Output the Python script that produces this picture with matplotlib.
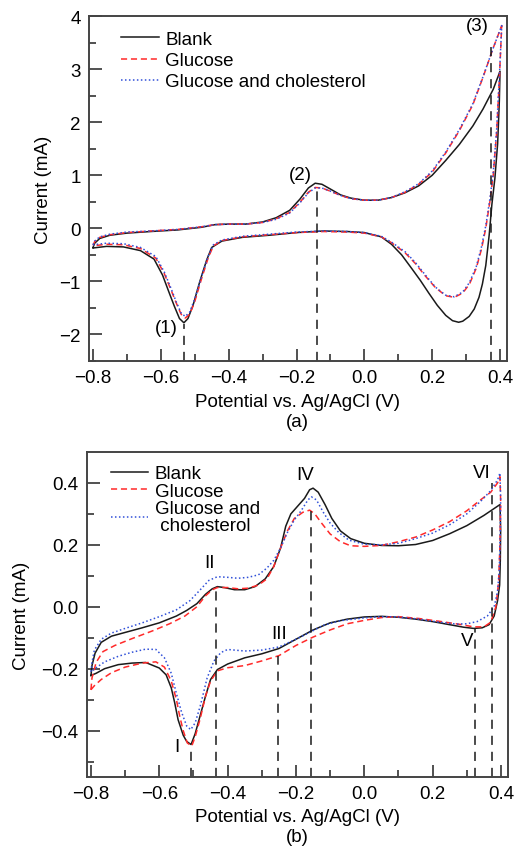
import matplotlib

matplotlib.use("Agg")
import matplotlib.pyplot as plt

plt.rcParams["font.family"] = ["Liberation Sans", "DejaVu Sans"]
plt.rcParams["axes.unicode_minus"] = True

# ---- panel (a): CV loops, E (V) and I (mA), upper branch then lower branch ----
a_blank_E = [-0.80, -0.795, -0.78, -0.75, -0.70, -0.63, -0.55, -0.48, -0.44, -0.40, -0.35, -0.30,
             -0.26, -0.22, -0.19, -0.165, -0.145, -0.125, -0.10, -0.07, -0.04, 0.0, 0.04, 0.08,
             0.12, 0.16, 0.20, 0.24, 0.28, 0.32, 0.35, 0.38, 0.40,
             0.398, 0.393, 0.385, 0.376, 0.368, 0.358, 0.348, 0.338, 0.324, 0.309, 0.29, 0.278,
             0.26, 0.24, 0.215, 0.19, 0.165, 0.14, 0.11, 0.08, 0.05, 0.0, -0.05, -0.12, -0.20,
             -0.28, -0.36, -0.42, -0.45, -0.465, -0.485, -0.505, -0.52, -0.532, -0.545, -0.56,
             -0.575, -0.595, -0.62, -0.66, -0.71, -0.76, -0.80]
a_blank_I = [-0.36, -0.28, -0.19, -0.13, -0.09, -0.06, -0.03, 0.02, 0.07, 0.08, 0.08, 0.12,
             0.20, 0.34, 0.55, 0.76, 0.85, 0.83, 0.74, 0.63, 0.57, 0.53, 0.53, 0.58,
             0.67, 0.80, 1.00, 1.28, 1.58, 1.93, 2.25, 2.62, 2.96,
             2.40, 1.60, 0.95, 0.45, -0.13, -0.70, -1.05, -1.30, -1.52, -1.66, -1.75, -1.77,
             -1.74, -1.64, -1.45, -1.22, -0.98, -0.76, -0.50, -0.30, -0.16, -0.08, -0.06, -0.05, -0.08,
             -0.13, -0.17, -0.24, -0.36, -0.60, -1.00, -1.45, -1.70, -1.78, -1.70, -1.47,
             -1.22, -0.88, -0.58, -0.42, -0.35, -0.34, -0.37]

a_gluc_E = [-0.80, -0.795, -0.78, -0.75, -0.70, -0.63, -0.55, -0.48, -0.44, -0.40, -0.35, -0.30,
            -0.26, -0.22, -0.19, -0.165, -0.145, -0.125, -0.10, -0.07, -0.04, 0.0, 0.04, 0.08,
            0.12, 0.16, 0.20, 0.24, 0.28, 0.32, 0.35, 0.38, 0.405,
            0.398, 0.39, 0.38, 0.37, 0.358, 0.345, 0.33, 0.31, 0.29, 0.265, 0.24, 0.21, 0.18,
            0.15, 0.12, 0.08, 0.05, 0.0, -0.05, -0.12, -0.20, -0.28, -0.36, -0.42, -0.445,
            -0.46, -0.48, -0.50, -0.515, -0.528, -0.54, -0.555, -0.57, -0.59, -0.615, -0.66,
            -0.71, -0.76, -0.80]
a_gluc_I = [-0.32, -0.25, -0.17, -0.12, -0.08, -0.05, -0.02, 0.03, 0.07, 0.08, 0.08, 0.11,
            0.18, 0.30, 0.49, 0.68, 0.77, 0.76, 0.70, 0.62, 0.56, 0.53, 0.53, 0.58,
            0.68, 0.83, 1.06, 1.42, 1.84, 2.33, 2.85, 3.40, 3.82,
            2.80, 1.80, 1.00, 0.50, 0.00, -0.40, -0.75, -1.05, -1.22, -1.30, -1.27, -1.12, -0.90,
            -0.66, -0.46, -0.27, -0.16, -0.09, -0.07, -0.06, -0.08, -0.12, -0.16, -0.23, -0.33,
            -0.55, -0.95, -1.38, -1.62, -1.69, -1.62, -1.40, -1.16, -0.85, -0.56, -0.38,
            -0.31, -0.30, -0.33]

a_chol_E = [-0.80, -0.795, -0.78, -0.75, -0.70, -0.63, -0.55, -0.48, -0.44, -0.40, -0.35, -0.30,
            -0.26, -0.22, -0.19, -0.165, -0.145, -0.125, -0.10, -0.07, -0.04, 0.0, 0.04, 0.08,
            0.12, 0.16, 0.20, 0.24, 0.28, 0.32, 0.35, 0.38, 0.405,
            0.398, 0.39, 0.38, 0.37, 0.358, 0.345, 0.33, 0.31, 0.29, 0.265, 0.24, 0.21, 0.18,
            0.15, 0.12, 0.08, 0.05, 0.0, -0.05, -0.12, -0.20, -0.28, -0.36, -0.42, -0.445,
            -0.46, -0.48, -0.50, -0.515, -0.528, -0.54, -0.555, -0.57, -0.59, -0.615, -0.66,
            -0.71, -0.76, -0.80]
a_chol_I = [-0.31, -0.24, -0.16, -0.11, -0.07, -0.05, -0.02, 0.03, 0.07, 0.08, 0.08, 0.11,
            0.17, 0.29, 0.48, 0.67, 0.76, 0.76, 0.70, 0.62, 0.56, 0.53, 0.53, 0.58,
            0.69, 0.84, 1.08, 1.44, 1.86, 2.35, 2.86, 3.40, 3.82,
            2.85, 1.85, 1.05, 0.55, 0.05, -0.36, -0.72, -1.02, -1.20, -1.29, -1.26, -1.11, -0.88,
            -0.64, -0.44, -0.26, -0.15, -0.08, -0.06, -0.05, -0.07, -0.11, -0.15, -0.22, -0.31,
            -0.52, -0.91, -1.33, -1.58, -1.66, -1.60, -1.38, -1.13, -0.82, -0.53, -0.36,
            -0.29, -0.28, -0.31]

# ---- panel (b) ----
b_blank_E = [-0.80, -0.797, -0.788, -0.77, -0.74, -0.70, -0.65, -0.60, -0.55, -0.52, -0.49, -0.465,
             -0.445, -0.43, -0.41, -0.38, -0.35, -0.32, -0.29, -0.265, -0.245, -0.23, -0.215, -0.195,
             -0.175, -0.16, -0.15, -0.135, -0.115, -0.095, -0.07, -0.04, 0.0, 0.05, 0.10, 0.15,
             0.20, 0.25, 0.30, 0.35, 0.397,
             0.399, 0.398, 0.396, 0.39, 0.38, 0.365, 0.345, 0.32, 0.29, 0.25, 0.20, 0.15, 0.10,
             0.05, 0.0, -0.05, -0.10, -0.15, -0.20, -0.25, -0.30, -0.35, -0.40, -0.43, -0.45,
             -0.465, -0.48, -0.495, -0.507, -0.52, -0.53, -0.545, -0.555, -0.565, -0.58, -0.60,
             -0.64, -0.68, -0.72, -0.76, -0.785, -0.80]
b_blank_I = [-0.222, -0.19, -0.15, -0.115, -0.095, -0.083, -0.068, -0.052, -0.030, -0.012, 0.010, 0.040,
             0.058, 0.065, 0.062, 0.055, 0.055, 0.065, 0.090, 0.130, 0.190, 0.260, 0.300, 0.325,
             0.350, 0.378, 0.383, 0.370, 0.330, 0.285, 0.245, 0.220, 0.205, 0.198, 0.197, 0.201,
             0.214, 0.236, 0.262, 0.295, 0.330,
             0.25, 0.15, 0.07, 0.02, -0.03, -0.058, -0.068, -0.070, -0.066, -0.058, -0.048, -0.040, -0.034,
             -0.031, -0.033, -0.040, -0.052, -0.075, -0.105, -0.135, -0.152, -0.165, -0.185, -0.203, -0.235,
             -0.29, -0.35, -0.41, -0.445, -0.435, -0.415, -0.365, -0.31, -0.262, -0.22, -0.198,
             -0.18, -0.182, -0.187, -0.20, -0.215, -0.222]

b_gluc_E = [-0.80, -0.797, -0.785, -0.765, -0.73, -0.68, -0.62, -0.57, -0.525, -0.49, -0.465, -0.445,
            -0.43, -0.40, -0.37, -0.34, -0.31, -0.285, -0.265, -0.245, -0.225, -0.205, -0.18, -0.16,
            -0.145, -0.125, -0.10, -0.07, -0.04, 0.0, 0.05, 0.10, 0.15, 0.20, 0.25, 0.30, 0.34,
            0.37, 0.39, 0.397,
            0.399, 0.397, 0.393, 0.385, 0.37, 0.35, 0.32, 0.28, 0.22, 0.16, 0.10, 0.05, 0.0,
            -0.05, -0.10, -0.15, -0.20, -0.25, -0.30, -0.35, -0.40, -0.43, -0.45, -0.465, -0.48,
            -0.495, -0.505, -0.518, -0.53, -0.54, -0.55, -0.565, -0.585, -0.61, -0.65, -0.70,
            -0.74, -0.77, -0.79, -0.80]
b_gluc_I = [-0.268, -0.23, -0.18, -0.145, -0.125, -0.103, -0.078, -0.055, -0.030, 0.0, 0.035, 0.055,
            0.062, 0.062, 0.058, 0.060, 0.070, 0.090, 0.130, 0.190, 0.245, 0.285, 0.305, 0.312,
            0.300, 0.270, 0.235, 0.210, 0.197, 0.195, 0.198, 0.210, 0.225, 0.248, 0.275, 0.310, 0.345,
            0.370, 0.400, 0.420,
            0.34, 0.20, 0.08, 0.0, -0.05, -0.065, -0.065, -0.057, -0.047, -0.038, -0.032, -0.035, -0.044,
            -0.055, -0.075, -0.098, -0.125, -0.158, -0.175, -0.190, -0.197, -0.207, -0.24, -0.29, -0.36,
            -0.42, -0.45, -0.44, -0.40, -0.355, -0.30, -0.24, -0.195, -0.178, -0.182, -0.195,
            -0.213, -0.235, -0.255, -0.268]

b_chol_E = [-0.80, -0.797, -0.79, -0.77, -0.74, -0.70, -0.65, -0.60, -0.55, -0.51, -0.48, -0.455,
            -0.43, -0.40, -0.37, -0.34, -0.31, -0.285, -0.265, -0.245, -0.225, -0.205, -0.185, -0.165,
            -0.155, -0.14, -0.12, -0.10, -0.075, -0.045, 0.0, 0.05, 0.10, 0.15, 0.20, 0.25, 0.30,
            0.34, 0.37, 0.39, 0.397,
            0.399, 0.398, 0.395, 0.39, 0.38, 0.36, 0.33, 0.30, 0.27, 0.22, 0.16, 0.10, 0.05, 0.0,
            -0.07, -0.12, -0.16, -0.20, -0.25, -0.30, -0.35, -0.40, -0.42, -0.44, -0.46, -0.48,
            -0.495, -0.508, -0.52, -0.535, -0.55, -0.565, -0.585, -0.61, -0.64, -0.68, -0.72,
            -0.76, -0.785, -0.80]
b_chol_I = [-0.21, -0.18, -0.14, -0.105, -0.085, -0.070, -0.052, -0.032, -0.010, 0.020, 0.055, 0.085,
            0.097, 0.095, 0.092, 0.095, 0.103, 0.125, 0.150, 0.190, 0.240, 0.280, 0.310, 0.345,
            0.355, 0.345, 0.305, 0.270, 0.240, 0.215, 0.202, 0.200, 0.205, 0.220, 0.238, 0.265, 0.300,
            0.340, 0.375, 0.410, 0.432,
            0.35, 0.25, 0.12, 0.05, 0.0, -0.03, -0.048, -0.055, -0.056, -0.050, -0.040, -0.033, -0.032, -0.036,
            -0.045, -0.060, -0.083, -0.105, -0.130, -0.140, -0.143, -0.138, -0.148, -0.175, -0.23, -0.32,
            -0.375, -0.397, -0.385, -0.34, -0.28, -0.215, -0.165, -0.138, -0.137, -0.147, -0.16,
            -0.178, -0.197, -0.21]

# guide lines: (potential, top current) and peak labels (text, E, I)
a_guides = [(-0.532, -1.80), (-0.141, 0.72), (0.372, 3.50)]
a_labels = [("(1)", -0.583, -1.86), ("(2)", -0.19, 1.02), ("(3)", 0.333, 3.83)]
b_guides = [(-0.508, -0.45), (-0.433, 0.063), (-0.252, -0.16), (-0.157, 0.31), (0.325, -0.07), (0.374, 0.40)]
b_labels = [("I", -0.548, -0.452), ("II", -0.452, 0.142), ("III", -0.248, -0.085), ("IV", -0.172, 0.426),
            ("V", 0.30, -0.108), ("VI", 0.345, 0.432)]

FS = 13.5
BLACK = "#1a1a1a"
RED = "#ff2a2a"
BLUE = "#3050d8"
XTL = ["\u22120.8", "\u22120.6", "\u22120.4", "\u22120.2", "0.0", "0.2", "0.4"]


def style_axes(ax, ymajor, yminor, ylim, xpad):
    ax.set_xlim(-0.812, 0.42)
    ax.set_ylim(*ylim)
    ax.set_xticks([-0.8, -0.6, -0.4, -0.2, 0.0, 0.2, 0.4])
    ax.set_xticks([-0.7, -0.5, -0.3, -0.1, 0.1, 0.3], minor=True)
    ax.set_yticks(ymajor)
    ax.set_yticks(yminor, minor=True)
    ax.tick_params(which="both", direction="in", top=False, right=False, labelsize=FS,
                   color="#333333", width=1.2, pad=6)
    ax.tick_params(which="major", length=9)
    ax.tick_params(which="minor", length=5)
    for s in ax.spines.values():
        s.set_color("#444444")
        s.set_linewidth(1.4)
    ax.set_xlabel("Potential vs. Ag/AgCl (V)", fontsize=FS, labelpad=xpad)
    ax.set_ylabel("Current (mA)", fontsize=FS)


fig = plt.figure(figsize=(5.14, 8.53), dpi=100)
ax1 = fig.add_axes([0.173, 0.5756, 0.813, 0.4044])
ax2 = fig.add_axes([0.169, 0.0879, 0.819, 0.3811])

# panel (a)
ax1.plot(a_blank_E, a_blank_I, color=BLACK, lw=1.1, label="Blank")
ax1.plot(a_gluc_E, a_gluc_I, color=RED, lw=1.1, ls=(0, (4, 2.5)), label="Glucose")
ax1.plot(a_chol_E, a_chol_I, color=BLUE, lw=1.1, ls=(0, (1, 1.6)), label="Glucose and cholesterol")
for e, top in a_guides:
    ax1.plot([e, e], [-2.5, top], color=BLACK, lw=1.1, ls=(0, (6, 4.5)))
for t, e, i in a_labels:
    ax1.text(e, i, t, fontsize=FS, ha="center", va="center")
style_axes(ax1, [-2, -1, 0, 1, 2, 3, 4], [-2.5, -1.5, -0.5, 0.5, 1.5, 2.5, 3.5], (-2.5, 4.0), 5)
ax1.set_yticklabels(["\u22122", "\u22121", "0", "1", "2", "3", "4"])
ax1.set_xticklabels(XTL)
ax1.yaxis.set_label_coords(-0.088, 0.5)
ax1.legend(loc="upper left", bbox_to_anchor=(0.05, 0.99), frameon=False, fontsize=FS,
           handlelength=2.0, handletextpad=0.35, labelspacing=0.22, borderaxespad=0.2)

# panel (b)
ax2.plot(b_blank_E, b_blank_I, color=BLACK, lw=1.1, label="Blank")
ax2.plot(b_gluc_E, b_gluc_I, color=RED, lw=1.1, ls=(0, (4, 2.5)), label="Glucose")
ax2.plot(b_chol_E, b_chol_I, color=BLUE, lw=1.1, ls=(0, (1, 1.6)), label="Glucose and\n cholesterol")
for e, top in b_guides:
    ax2.plot([e, e], [-0.55, top], color=BLACK, lw=1.1, ls=(0, (6, 4.5)))
for t, e, i in b_labels:
    ax2.text(e, i, t, fontsize=FS, ha="center", va="center")
style_axes(ax2, [-0.4, -0.2, 0.0, 0.2, 0.4], [-0.5, -0.3, -0.1, 0.1, 0.3], (-0.55, 0.5), 4)
ax2.set_yticklabels(["\u22120.4", "\u22120.2", "0.0", "0.2", "0.4"])
ax2.set_xticklabels(XTL)
ax2.yaxis.set_label_coords(-0.134, 0.5)
leg2 = ax2.legend(loc="upper left", bbox_to_anchor=(0.025, 1.0), frameon=False, fontsize=FS,
                  handlelength=2.0, handletextpad=0.35, labelspacing=0.03, borderaxespad=0.3)
leg2.get_texts()[2].set_linespacing(0.95)

fig.text(0.5 * (0.173 + 0.986), 1 - 423 / 853, "(a)", fontsize=FS, ha="center", va="center")
fig.text(0.5 * (0.169 + 0.988), 1 - 838 / 853, "(b)", fontsize=FS, ha="center", va="center")

fig.savefig("out.png", dpi=100, facecolor="white")
